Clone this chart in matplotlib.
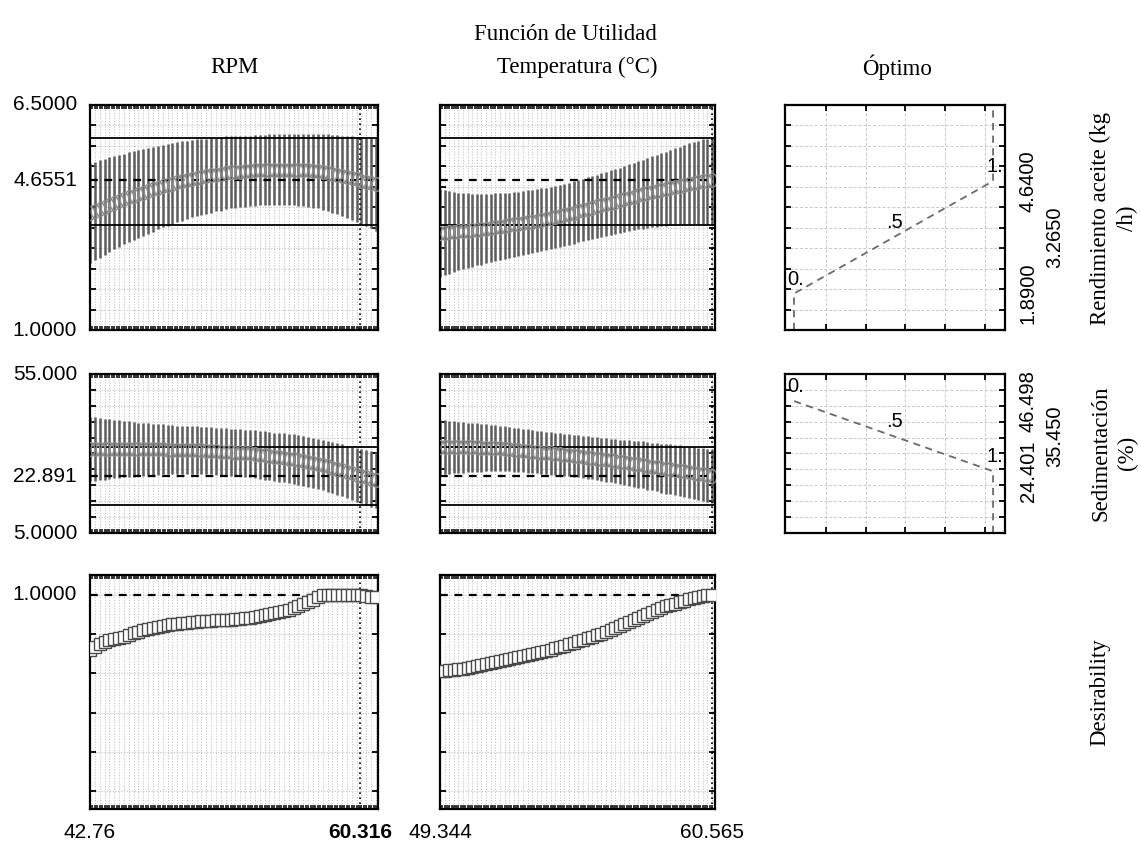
import numpy as np
import matplotlib
matplotlib.use('Agg')
import matplotlib.pyplot as plt
from matplotlib.path import Path
from matplotlib.transforms import blended_transform_factory

# ---------------- data ----------------
rpm_range = [42.76, 61.36]
rpm_xlim = [42.76, 61.49]
rpm_opt = 60.316
temp_range = [49.344, 60.565]
temp_xlim = [49.344, 60.69]
temp_opt = 60.565
n_steps = 60

# Rendimiento aceite (kg/h): predicted value and half width of the interval
rend_rpm = [3.86, 3.91, 3.96, 4.01, 4.06, 4.11, 4.15, 4.20, 4.24, 4.28,
            4.32, 4.36, 4.40, 4.44, 4.48, 4.52, 4.55, 4.58, 4.61, 4.64,
            4.67, 4.70, 4.72, 4.74, 4.76, 4.78, 4.80, 4.82, 4.84, 4.85,
            4.86, 4.87, 4.88, 4.89, 4.90, 4.91, 4.91, 4.92, 4.92, 4.92,
            4.92, 4.92, 4.92, 4.91, 4.91, 4.90, 4.89, 4.88, 4.86, 4.84,
            4.82, 4.80, 4.77, 4.74, 4.71, 4.68, 4.65, 4.62, 4.59, 4.56]
rend_rpm_ci = [1.22, 1.20, 1.19, 1.17, 1.16, 1.14, 1.13, 1.11, 1.10, 1.09,
               1.07, 1.06, 1.05, 1.04, 1.02, 1.01, 1.00, 0.99, 0.98, 0.97,
               0.96, 0.95, 0.94, 0.93, 0.92, 0.91, 0.90, 0.90, 0.89, 0.88,
               0.88, 0.87, 0.87, 0.86, 0.86, 0.86, 0.86, 0.86, 0.86, 0.86,
               0.86, 0.86, 0.87, 0.87, 0.88, 0.89, 0.90, 0.91, 0.92, 0.94,
               0.95, 0.97, 0.98, 1.00, 1.02, 1.04, 1.06, 1.08, 1.10, 1.13]
rend_temp = [3.37, 3.38, 3.39, 3.40, 3.41, 3.42, 3.43, 3.44, 3.45, 3.46,
             3.48, 3.49, 3.51, 3.52, 3.54, 3.56, 3.58, 3.59, 3.61, 3.63,
             3.65, 3.67, 3.69, 3.71, 3.74, 3.76, 3.79, 3.81, 3.84, 3.87,
             3.90, 3.93, 3.96, 3.99, 4.02, 4.05, 4.08, 4.11, 4.14, 4.17,
             4.20, 4.23, 4.26, 4.29, 4.32, 4.35, 4.38, 4.40, 4.43, 4.45,
             4.48, 4.50, 4.53, 4.55, 4.58, 4.60, 4.61, 4.63, 4.64, 4.66]
rend_temp_ci = [1.07, 1.04, 1.01, 0.98, 0.95, 0.93, 0.91, 0.89, 0.87, 0.86,
                0.85, 0.84, 0.83, 0.82, 0.81, 0.80, 0.79, 0.79, 0.78, 0.78,
                0.77, 0.77, 0.77, 0.76, 0.76, 0.76, 0.76, 0.76, 0.76, 0.76,
                0.76, 0.76, 0.77, 0.77, 0.77, 0.78, 0.78, 0.79, 0.79, 0.80,
                0.81, 0.82, 0.82, 0.83, 0.84, 0.85, 0.87, 0.88, 0.89, 0.91,
                0.92, 0.94, 0.95, 0.97, 0.98, 1.00, 1.01, 1.03, 1.04, 1.05]

# Sedimentacion (%)
sed_rpm = [31.4, 31.4, 31.4, 31.4, 31.4, 31.4, 31.4, 31.4, 31.4, 31.3,
           31.3, 31.3, 31.3, 31.3, 31.3, 31.3, 31.2, 31.2, 31.2, 31.2,
           31.2, 31.1, 31.1, 31.0, 30.9, 30.8, 30.7, 30.6, 30.5, 30.4,
           30.3, 30.2, 30.1, 30.0, 29.8, 29.6, 29.4, 29.2, 29.0, 28.8,
           28.6, 28.4, 28.2, 28.0, 27.7, 27.4, 27.1, 26.8, 26.4, 26.0,
           25.5, 25.1, 24.7, 24.2, 23.8, 23.3, 22.9, 22.5, 22.1, 21.7]
sed_rpm_ci = [10.2, 10.0, 9.8, 9.6, 9.4, 9.2, 9.0, 8.9, 8.7, 8.6,
              8.4, 8.3, 8.2, 8.1, 8.0, 7.9, 7.8, 7.7, 7.6, 7.6,
              7.5, 7.5, 7.4, 7.4, 7.4, 7.4, 7.4, 7.4, 7.4, 7.4,
              7.4, 7.4, 7.4, 7.5, 7.5, 7.5, 7.6, 7.6, 7.6, 7.7,
              7.7, 7.7, 7.8, 7.8, 7.8, 7.9, 7.9, 7.9, 8.0, 8.0,
              8.0, 8.1, 8.2, 8.3, 8.4, 8.5, 8.6, 8.7, 8.8, 8.9]
sed_temp = [32.0, 32.0, 32.0, 32.0, 31.9, 31.9, 31.9, 31.9, 31.9, 31.8,
            31.8, 31.8, 31.7, 31.6, 31.5, 31.4, 31.2, 31.1, 30.9, 30.8,
            30.6, 30.5, 30.3, 30.2, 30.0, 29.9, 29.7, 29.6, 29.4, 29.3,
            29.1, 28.9, 28.7, 28.6, 28.4, 28.2, 28.0, 27.8, 27.6, 27.4,
            27.2, 27.0, 26.8, 26.6, 26.4, 26.1, 25.9, 25.7, 25.4, 25.2,
            25.1, 24.9, 24.6, 24.4, 24.1, 23.9, 23.6, 23.4, 23.1, 22.9]
sed_temp_ci = [8.6, 8.5, 8.3, 8.2, 8.1, 7.9, 7.8, 7.7, 7.6, 7.5,
               7.4, 7.3, 7.2, 7.1, 7.0, 7.0, 6.9, 6.9, 6.8, 6.8,
               6.8, 6.7, 6.7, 6.7, 6.7, 6.6, 6.6, 6.6, 6.6, 6.6,
               6.6, 6.7, 6.7, 6.7, 6.8, 6.8, 6.9, 6.9, 7.0, 7.0,
               7.1, 7.1, 7.2, 7.3, 7.4, 7.5, 7.5, 7.6, 7.7, 7.8,
               7.8, 7.9, 8.0, 8.0, 8.1, 8.2, 8.2, 8.3, 8.4, 8.4]

# overall desirability
des_rpm = [0.720, 0.735, 0.750, 0.760, 0.770, 0.775, 0.780, 0.785, 0.795, 0.805,
           0.812, 0.820, 0.826, 0.832, 0.838, 0.843, 0.847, 0.850, 0.853, 0.856,
           0.858, 0.860, 0.862, 0.864, 0.866, 0.868, 0.870, 0.871, 0.872, 0.873,
           0.875, 0.877, 0.880, 0.882, 0.885, 0.890, 0.895, 0.900, 0.905, 0.910,
           0.915, 0.922, 0.930, 0.940, 0.950, 0.962, 0.975, 0.990, 0.997, 1.000,
           1.000, 1.000, 1.000, 1.000, 1.000, 1.000, 1.000, 0.995, 0.990, 0.990]
des_temp = [0.610, 0.612, 0.615, 0.618, 0.621, 0.624, 0.627, 0.631, 0.636, 0.641,
            0.646, 0.651, 0.656, 0.661, 0.666, 0.671, 0.676, 0.681, 0.686, 0.691,
            0.696, 0.702, 0.708, 0.714, 0.720, 0.727, 0.734, 0.740, 0.747, 0.754,
            0.762, 0.770, 0.778, 0.786, 0.794, 0.802, 0.810, 0.820, 0.830, 0.840,
            0.850, 0.860, 0.870, 0.880, 0.890, 0.900, 0.910, 0.920, 0.930, 0.940,
            0.948, 0.955, 0.962, 0.969, 0.976, 0.982, 0.988, 0.993, 0.997, 1.000]

# current (optimum) predictions and reference lines
rend_current, sed_current, des_current = 4.6551, 22.891, 1.0
rend_limits = [3.57, 5.69]
sed_limits = [13.8, 31.95]

# desirability functions (response value -> desirability)
rend_fn_resp = [1.0, 1.89, 3.265, 4.64, 6.5]
rend_fn_des = [0.0, 0.0, 0.5, 1.0, 1.0]
sed_fn_resp = [5.0, 24.401, 35.450, 46.498]
sed_fn_des = [1.0, 1.0, 0.5, 0.0]
rend_fn_labels = ['1.8900', '3.2650', '4.6400']
sed_fn_labels = ['24.401', '35.450', '46.498']

# ---------------- figure ----------------
SERIF = 'Liberation Serif'
SANS = 'Liberation Sans'
plt.rcParams['font.family'] = SANS

fig = plt.figure(figsize=(11.41, 8.46), dpi=100)
W, H = 1141.0, 846.0


def axes_px(left, top, right, bottom):
    return fig.add_axes([left / W, 1 - bottom / H, (right - left) / W, (bottom - top) / H])


col_px = [(90, 378), (440, 715)]
row_px = [(105, 330), (374, 533), (575, 809)]
opt_px = (785, 1005)

oval = Path(Path.unit_circle().vertices * [0.62, 1.0], Path.unit_circle().codes)


def style_profile(ax, x, xlim, ylim, yticks):
    ax.set_xlim(xlim)
    ax.set_ylim(ylim)
    ax.set_xticks(x)
    ax.set_xticks((x[:-1] + x[1:]) / 2, minor=True)
    ax.set_yticks(yticks)
    ax.set_xticklabels([])
    ax.set_yticklabels([])
    ax.tick_params(which='both', direction='in', top=True, right=True, length=3, width=1.1)
    ax.tick_params(axis='y', which='major', length=4, width=1.3)
    ax.grid(True, which='major', color='#c4c4c4', ls=(0, (1, 1.5)), lw=0.8)
    ax.set_axisbelow(True)
    for s in ax.spines.values():
        s.set_linewidth(1.6)


def left_labels(ax, values, texts):
    tr = blended_transform_factory(ax.transAxes, ax.transData)
    for v, t in zip(values, texts):
        ax.text(-0.045, v, t, transform=tr, ha='right', va='center', fontsize=15,
                family=SANS, clip_on=False)


rows = [
    (rend_rpm, rend_rpm_ci, rend_temp, rend_temp_ci, (1.0, 6.5), np.arange(1.5, 6.5, 0.5),
     rend_current, rend_limits, ['6.5000', '4.6551', '1.0000'], [6.5, rend_current, 1.0]),
    (sed_rpm, sed_rpm_ci, sed_temp, sed_temp_ci, (5.0, 55.0), np.arange(10, 55, 5),
     sed_current, sed_limits, ['55.000', '22.891', '5.0000'], [55.0, sed_current, 5.0]),
]

cols = [
    (np.linspace(rpm_range[0], rpm_range[1], n_steps), rpm_xlim, rpm_opt),
    (np.linspace(temp_range[0], temp_range[1], n_steps), temp_xlim, temp_opt),
]

for r, (m1, c1, m2, c2, ylim, yt, cur, lims, ylabs, yvals) in enumerate(rows):
    for c, (x, xlim, xopt) in enumerate(cols):
        mean = np.array(m1 if c == 0 else m2)
        ci = np.array(c1 if c == 0 else c2)
        ax = axes_px(col_px[c][0], row_px[r][0], col_px[c][1], row_px[r][1])
        style_profile(ax, x, xlim, ylim, yt)
        ax.vlines(x, mean - ci, mean + ci, color='#5c5c5c', lw=1.8, zorder=2)
        for lv in lims:
            ax.axhline(lv, color='k', lw=1.3, zorder=3)
        ax.axhline(cur, color='k', lw=1.6, ls=(0, (3.5, 3.0)), zorder=3)
        ax.axvline(xopt, color='k', lw=1.2, ls=(0, (1, 2)), zorder=3)
        ax.plot(x, mean, ls='none', marker=oval, ms=10, mfc='none', mec='#8a8a8a',
                mew=1.0, zorder=4)
        if c == 0:
            left_labels(ax, yvals, ylabs)

# desirability row
for c, (x, xlim, xopt) in enumerate(cols):
    d = des_rpm if c == 0 else des_temp
    ax = axes_px(col_px[c][0], row_px[2][0], col_px[c][1], row_px[2][1])
    style_profile(ax, x, xlim, (-0.09, 1.10), np.arange(0, 1.01, 0.2))
    ax.axhline(des_current, color='k', lw=1.6, ls=(0, (3.5, 3.0)), zorder=3)
    ax.axvline(xopt, color='k', lw=1.2, ls=(0, (1, 2)), zorder=3)
    ax.plot(x, d, ls='none', marker='s', ms=9, mfc='white', mec='#4a4a4a', mew=1.0, zorder=4)
    tr = blended_transform_factory(ax.transData, ax.transAxes)
    ax.text(xlim[0], -0.1, ['42.76', '49.344'][c], transform=tr, ha='center', va='center',
            fontsize=15, clip_on=False)
    ax.text(xopt, -0.1, ['60.316', '60.565'][c], transform=tr, ha='center', va='center',
            fontsize=15, fontweight='bold' if c == 0 else 'normal', clip_on=False)
    if c == 0:
        left_labels(ax, [1.0], ['1.0000'])

# desirability function panels (Optimo)
d_grid = [0.16, 0.36, 0.56, 0.76, 0.96]
fn_rows = [
    (rend_fn_des, rend_fn_resp, (1.0, 6.5), np.arange(1.5, 6.5, 0.5),
     [1.89, 3.265, 4.64], rend_fn_labels, [0.0, 0.5, 1.0], ['0.', '.5', '1.']),
    (sed_fn_des, sed_fn_resp, (5.0, 55.0), np.arange(10, 55, 5),
     [24.401, 35.450, 46.498], sed_fn_labels, [1.0, 0.5, 0.0], ['1.', '.5', '0.']),
]
for r, (dv, rv, ylim, yt, pts, labs, pt_des, pt_txt) in enumerate(fn_rows):
    ax = axes_px(opt_px[0], row_px[r][0], opt_px[1], row_px[r][1])
    ax.set_xlim(-0.045, 1.06)
    ax.set_ylim(ylim)
    ax.set_xticks(d_grid)
    ax.set_yticks(yt)
    ax.set_xticklabels([])
    ax.set_yticklabels([])
    ax.tick_params(direction='in', top=True, right=True, length=4, width=1.3)
    ax.grid(True, color='#c8c8c8', ls=(0, (3, 2)), lw=0.7)
    ax.set_axisbelow(True)
    for s in ax.spines.values():
        s.set_linewidth(1.6)
    ax.plot(dv, rv, color='#6a6a6a', lw=1.3, ls=(0, (4, 3)))
    for dd, p, t in zip(pt_des, pts, pt_txt):
        ax.annotate(t, (dd, p), xytext=(-7, 5), textcoords='offset pixels', ha='left',
                    va='bottom', fontsize=14.5, annotation_clip=False)
    tr = blended_transform_factory(ax.transAxes, ax.transData)
    for k, (p, t) in enumerate(zip(pts, labs)):
        xo = 1.225 if k == 1 else 1.105
        ax.text(xo, p, t, transform=tr, rotation=90, ha='center', va='center',
                fontsize=14.5, clip_on=False)

# text
fig.text(565 / W, 1 - 35 / H, 'Función de Utilidad', ha='center', va='center',
         fontsize=16.5, family=SERIF)
for cx, t in [(234, 'RPM'), (577, 'Temperatura (°C)'), (897, 'Óptimo')]:
    fig.text(cx / W, 1 - 67 / H, t, ha='center', va='center', fontsize=16.5, family=SERIF)
fig.text(1114 / W, 1 - 218 / H, 'Rendimiento aceite (kg\n/h)', rotation=90, ha='center',
         va='center', multialignment='center', linespacing=1.35, fontsize=16.5, family=SERIF)
fig.text(1114 / W, 1 - 453 / H, 'Sedimentación\n(%)', rotation=90, ha='center',
         va='center', multialignment='center', linespacing=1.35, fontsize=16.5, family=SERIF)
fig.text(1100 / W, 1 - 692 / H, 'Desirability', rotation=90, ha='center', va='center',
         fontsize=16.5, family=SERIF)

fig.savefig('out.png', dpi=100)
